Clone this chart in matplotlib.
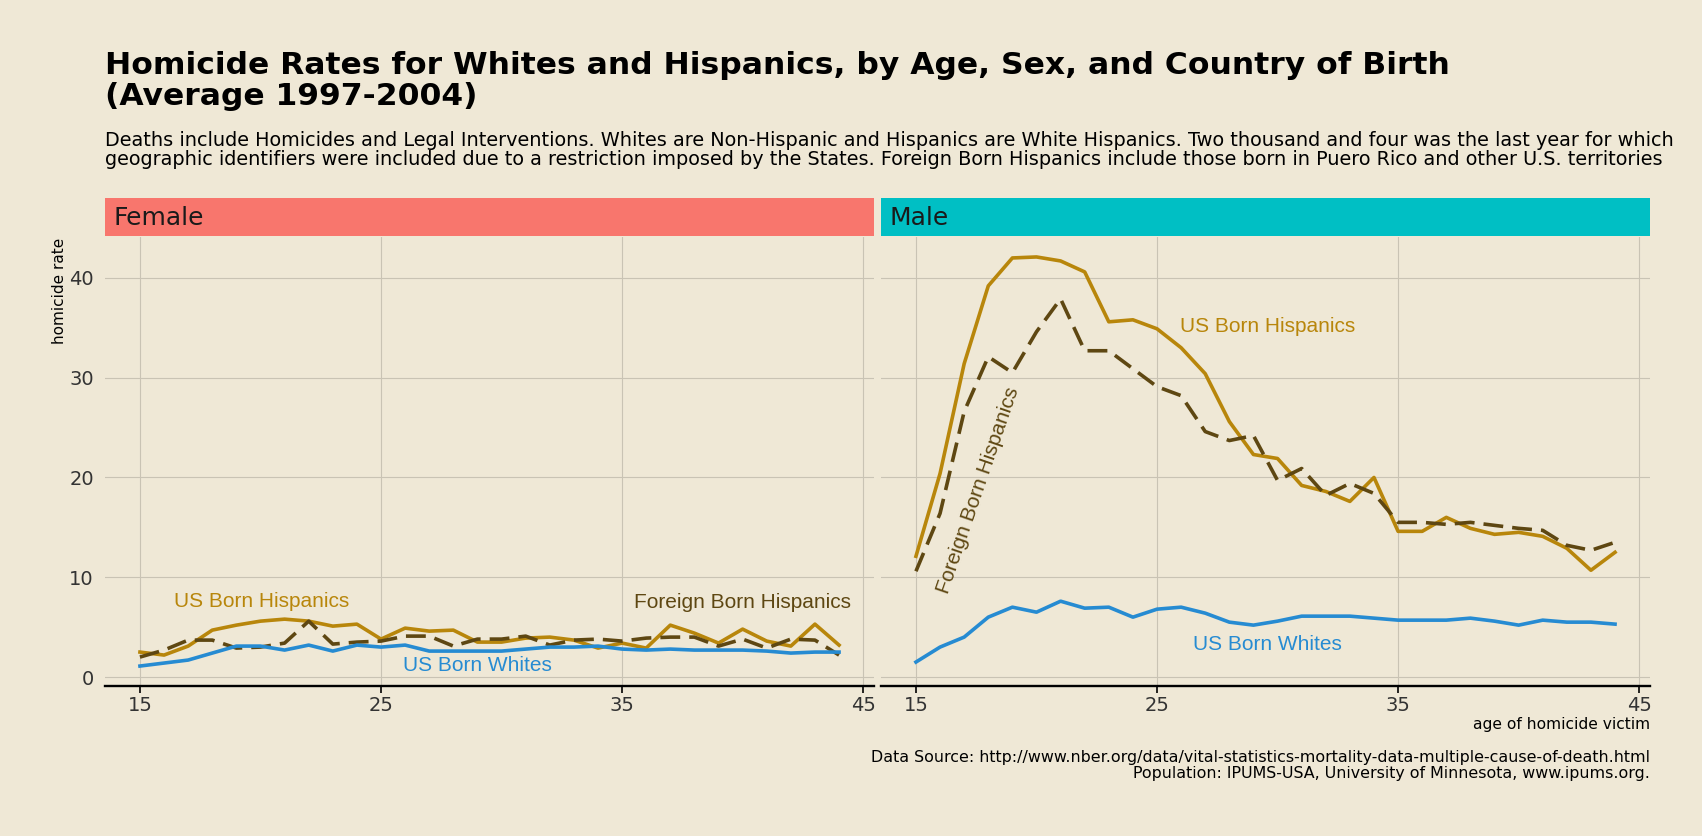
import numpy as np
import matplotlib
matplotlib.use("Agg")
import matplotlib.pyplot as plt
from matplotlib import font_manager

# ages 15..44
ages = list(range(15, 45))

# ---- Female
fem_us_hisp = [2.5, 2.2, 3.1, 4.7, 5.2, 5.6, 5.8, 5.6, 5.1, 5.3,
               3.8, 4.9, 4.6, 4.7, 3.5, 3.5, 3.9, 4.0, 3.7, 2.9,
               3.4, 2.9, 5.2, 4.4, 3.4, 4.8, 3.6, 3.1, 5.3, 3.2]
fem_fb_hisp = [2.0, 2.7, 3.7, 3.7, 2.9, 3.0, 3.4, 5.6, 3.3, 3.5,
               3.6, 4.1, 4.1, 3.1, 3.8, 3.8, 4.1, 3.2, 3.7, 3.8,
               3.6, 3.9, 4.0, 4.0, 3.1, 3.8, 2.9, 3.8, 3.7, 2.2]
fem_us_white = [1.1, 1.4, 1.7, 2.4, 3.1, 3.1, 2.7, 3.2, 2.6, 3.2,
                3.0, 3.2, 2.6, 2.6, 2.6, 2.6, 2.8, 3.0, 3.0, 3.1,
                2.8, 2.7, 2.8, 2.7, 2.7, 2.7, 2.6, 2.4, 2.5, 2.5]

# ---- Male
male_us_hisp = [12.1, 20.4, 31.4, 39.2, 42.0, 42.1, 41.7, 40.6, 35.6, 35.8,
                34.9, 33.0, 30.4, 25.6, 22.3, 21.9, 19.2, 18.6, 17.6, 20.0,
                14.6, 14.6, 16.0, 14.9, 14.3, 14.5, 14.1, 12.9, 10.7, 12.5]
male_fb_hisp = [10.6, 16.4, 26.6, 32.1, 30.5, 34.6, 37.9, 32.7, 32.7, 30.9,
                29.1, 28.2, 24.6, 23.7, 24.2, 19.7, 20.9, 18.2, 19.4, 18.4,
                15.5, 15.5, 15.3, 15.5, 15.2, 14.9, 14.7, 13.2, 12.7, 13.5]
male_us_white = [1.5, 3.0, 4.0, 6.0, 7.0, 6.5, 7.6, 6.9, 7.0, 6.0,
                 6.8, 7.0, 6.4, 5.5, 5.2, 5.6, 6.1, 6.1, 6.1, 5.9,
                 5.7, 5.7, 5.7, 5.9, 5.6, 5.2, 5.7, 5.5, 5.5, 5.3]

x_ticks = [15, 25, 35, 45]
y_ticks = [0, 10, 20, 30, 40]

BG = "#EFE8D6"
GOLD = "#B8860B"
DARK = "#5E4712"
BLUE = "#268BD2"
GRID = "#C9C3B4"

W, H = 1702, 836
fig = plt.figure(figsize=(W / 100, H / 100), dpi=100, facecolor=BG)

panel_bottom = 1 - 686 / H
panel_top = 1 - 237 / H
strip_bottom = 1 - 235.5 / H
strip_top = 1 - 197.5 / H
panels = [
    ("Female", 105 / W, 874 / W, "#F8766D",
     fem_us_hisp, fem_fb_hisp, fem_us_white),
    ("Male", 881 / W, 1650 / W, "#00BFC4",
     male_us_hisp, male_fb_hisp, male_us_white),
]

# annotation labels in a Helvetica-like face
lab_path = font_manager.findfont(font_manager.FontProperties(family="Liberation Sans"))
lab_fp = font_manager.FontProperties(fname=lab_path, size=15)

axes = []
for i, (name, x0, x1, scol, us_h, fb_h, us_w) in enumerate(panels):
    ax = fig.add_axes([x0, panel_bottom, x1 - x0, panel_top - panel_bottom])
    ax.set_facecolor(BG)
    ax.plot(ages, us_h, color=GOLD, lw=2.6)
    ax.plot(ages, fb_h, color=DARK, lw=2.6, dashes=(5.5, 2.5))
    ax.plot(ages, us_w, color=BLUE, lw=2.6)
    ax.set_xlim(13.55, 45.45)
    ax.set_ylim(-0.9, 44.1)
    ax.set_xticks(x_ticks)
    ax.set_yticks(y_ticks)
    ax.grid(True, color=GRID, lw=0.8)
    ax.set_axisbelow(True)
    for s in ["top", "right", "left"]:
        ax.spines[s].set_visible(False)
    ax.spines["bottom"].set_color("black")
    ax.spines["bottom"].set_linewidth(1.7)
    ax.tick_params(axis="x", length=5, width=1.2, color="black",
                   labelsize=14, labelcolor="#333333", pad=2)
    ax.tick_params(axis="y", length=0, labelsize=14, labelcolor="#333333", pad=8)
    if i > 0:
        ax.tick_params(axis="y", labelleft=False)

    # strip
    sax = fig.add_axes([x0, strip_bottom, x1 - x0, strip_top - strip_bottom])
    sax.set_facecolor(scol)
    sax.set_xticks([])
    sax.set_yticks([])
    for s in sax.spines.values():
        s.set_visible(False)
    sax.text(0.011, 0.45, name, transform=sax.transAxes, ha="left", va="center",
             fontsize=18, color="#1A1A1A")
    axes.append(ax)

# annotations
axf, axm = axes
axf.text(20.05, 7.6, "US Born Hispanics", color=GOLD, fontproperties=lab_fp,
         ha="center", va="center")
axf.text(40.0, 7.5, "Foreign Born Hispanics", color=DARK, fontproperties=lab_fp,
         ha="center", va="center")
axf.text(29.0, 1.2, "US Born Whites", color=BLUE, fontproperties=lab_fp,
         ha="center", va="center")
axm.text(29.6, 35.1, "US Born Hispanics", color=GOLD, fontproperties=lab_fp,
         ha="center", va="center")
axm.text(17.6, 18.7, "Foreign Born Hispanics", color=DARK, fontproperties=lab_fp,
         ha="center", va="center", rotation=71)
axm.text(29.6, 3.3, "US Born Whites", color=BLUE, fontproperties=lab_fp,
         ha="center", va="center")

# titles
fig.text(105 / W, 1 - 51 / H,
         "Homicide Rates for Whites and Hispanics, by Age, Sex, and Country of Birth\n(Average 1997-2004)",
         ha="left", va="top", fontsize=22.6, fontweight="bold", linespacing=1.1)
fig.text(105 / W, 1 - 131 / H,
         "Deaths include Homicides and Legal Interventions. Whites are Non-Hispanic and Hispanics are White Hispanics. "
         "Two thousand and four was the last year for which\n"
         "geographic identifiers were included due to a restriction imposed by the States. "
         "Foreign Born Hispanics include those born in Puero Rico and other U.S. territories",
         ha="left", va="top", fontsize=13.9, linespacing=1.03)

fig.text(59 / W, 1 - 291 / H, "homicide rate", rotation=90, ha="center", va="center",
         fontsize=11)
fig.text(1650 / W, 1 - 725 / H, "age of homicide victim", ha="right", va="center",
         fontsize=11.2)
fig.text(1650 / W, 1 - 750 / H,
         "Data Source: http://www.nber.org/data/vital-statistics-mortality-data-multiple-cause-of-death.html\n"
         "Population: IPUMS-USA, University of Minnesota, www.ipums.org.",
         ha="right", va="top", fontsize=11.4, linespacing=1.1)

fig.savefig("out.png", dpi=100, facecolor=BG)
